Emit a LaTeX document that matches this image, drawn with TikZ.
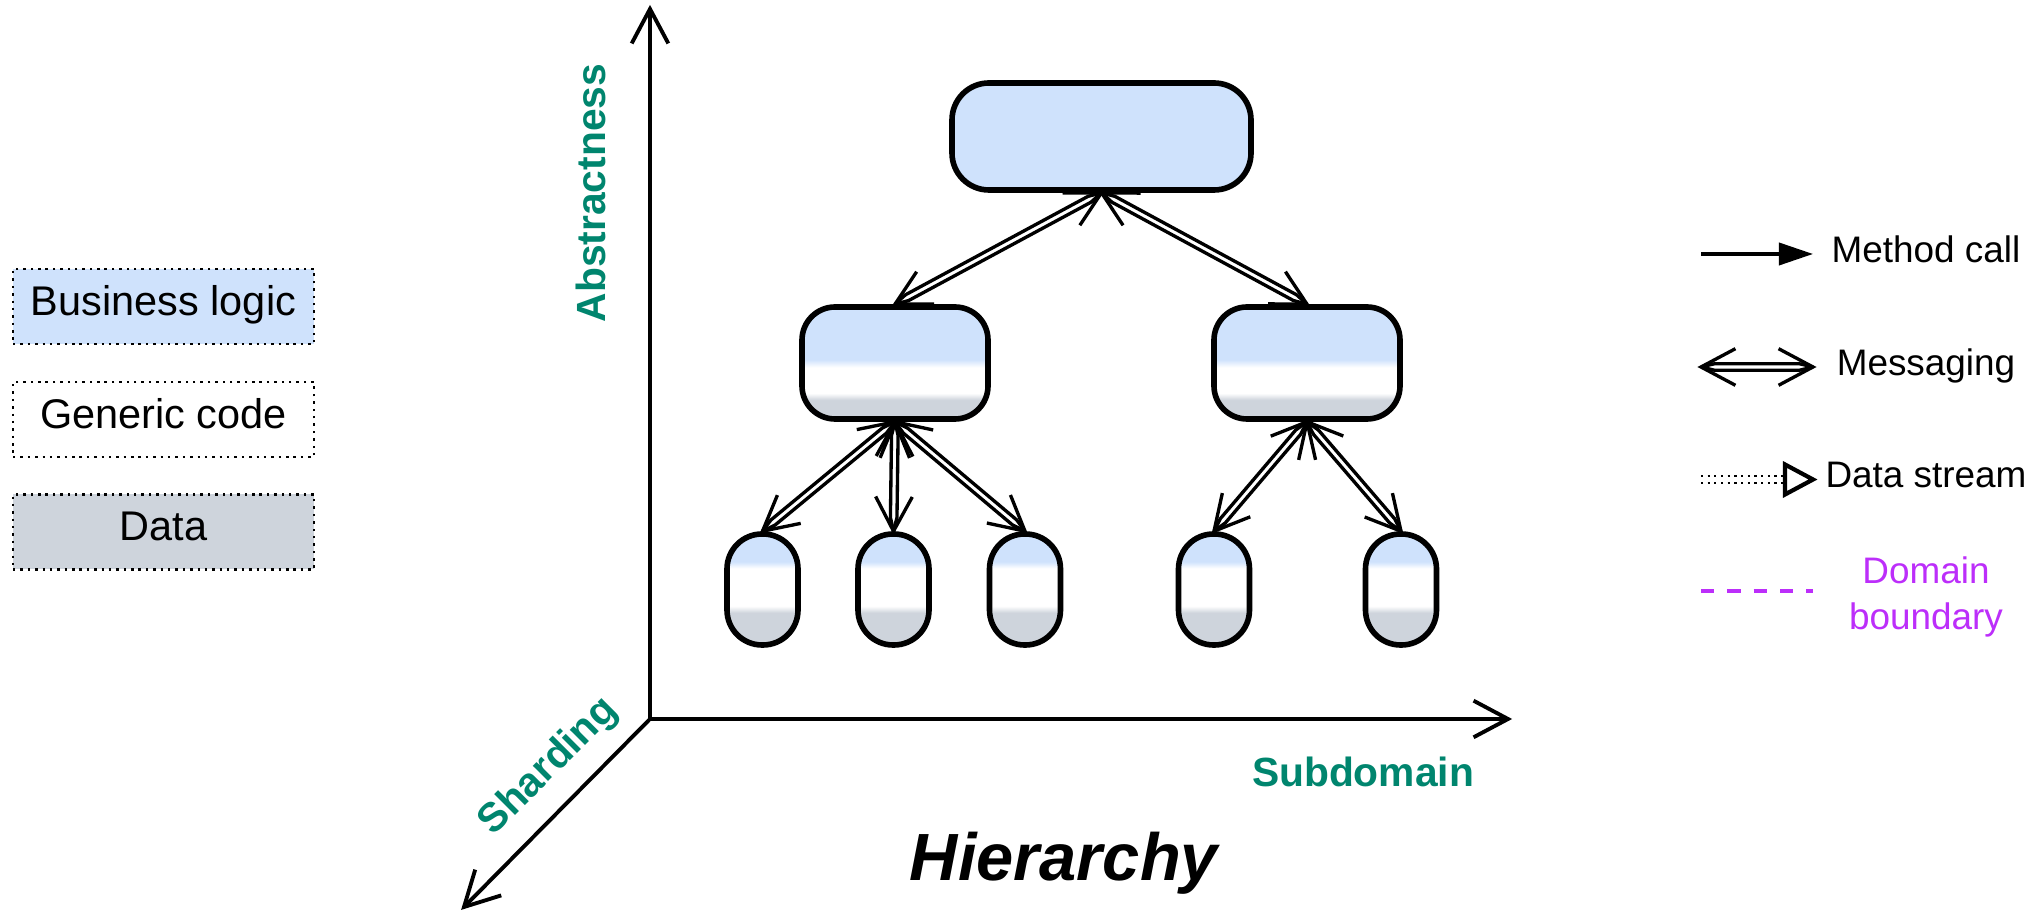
\documentclass[tikz,border=0pt]{standalone}
\usepackage{fontspec}
\setmainfont{Liberation Sans}
\usetikzlibrary{calc,arrows.meta}
\definecolor{blz}{HTML}{CFE2FC}
\definecolor{grz}{HTML}{CED4DC}
\definecolor{tealz}{HTML}{00856E}
\definecolor{purz}{RGB}{188,46,250}
\pgfdeclareverticalshading{midshade}{100bp}{color(0bp)=(grz); color(33.5bp)=(grz); color(36.5bp)=(white); color(48bp)=(white); color(51.5bp)=(blz); color(100bp)=(blz)}
\pgfdeclareverticalshading{smallshade}{100bp}{color(0bp)=(grz); color(39.5bp)=(grz); color(42.5bp)=(white); color(59.5bp)=(white); color(62.5bp)=(blz); color(100bp)=(blz)}
\newcommand\msgarrow[2]{%
  \draw[msgln, line join=round] (#1) -- ($(#1)!4pt!13.5:(#2)$) -- ($(#2)!4pt!-13.5:(#1)$) -- (#2);
  \draw[msgln, line join=round] (#1) -- ($(#1)!4pt!-13.5:(#2)$) -- ($(#2)!4pt!13.5:(#1)$) -- (#2);
  \draw[msgln] ($(#1)!11.1pt!28:(#2)$) -- (#1) -- ($(#1)!11.1pt!-28:(#2)$);
  \draw[msgln] ($(#2)!11.1pt!28:(#1)$) -- (#2) -- ($(#2)!11.1pt!-28:(#1)$);
}
\newcommand\axbarbs[2]{%
  \draw[axisln] ($(#1)!11.1pt!28:(#2)$) -- (#1) -- ($(#1)!11.1pt!-28:(#2)$);
}
\begin{document}
\begin{tikzpicture}[x=0.1mm, y=-0.1mm,
  bx/.style={draw, line width=1.6pt, inner sep=0pt},
  msgln/.style={line width=0.95pt, line join=miter},
  axisln/.style={line width=1.1pt, line join=miter},
  axlab/.style={text=tealz, font=\fontsize{11.6}{14}\selectfont\bfseries, inner sep=0pt},
  rleg/.style={font=\fontsize{10.5}{13.1}\selectfont, inner sep=0pt, anchor=base},
  lleg/.style={draw, dash pattern=on 0.7pt off 1.4pt, line width=0.72pt, minimum width=30.1mm, minimum height=7.5mm,
    inner sep=0pt, font=\fontsize{11.8}{14}\selectfont, text height=0.75em, text depth=0.25em}]
\useasboundingbox (0,0) rectangle (2038,924);

% left legend
\node[lleg, fill=blz] (lbl) at (163.5,306.5) {Business logic};
\node[lleg, fill=white] (lgc) at (163.5,419.5) {Generic code};
\node[lleg, fill=grz] (ldt) at (163.5,532) {Data};

% axes
\coordinate (O) at (650,719);
\coordinate (Ytip) at (650,9);
\coordinate (Xtip) at (1508,719);
\coordinate (Ztip) at (464,907);
\draw[axisln] (O) -- (Ytip);
\draw[axisln] (O) -- (Xtip);
\draw[axisln] (O) -- (Ztip);
\axbarbs{Ytip}{O}
\axbarbs{Xtip}{O}
\axbarbs{Ztip}{O}
\node[axlab, rotate=90] (labA) at (591,193) {Abstractness};
\node[axlab, anchor=base] (labS) at (1363,787) {Subdomain};
\node[axlab, rotate=45] (labH) at (549,767) {Sharding};
\node[font=\fontsize{19}{22}\selectfont\bfseries\itshape, anchor=base, inner sep=0pt] (hier) at (1064,881) {Hierarchy};

% boxes
\node[bx, fill=blz, rounded corners=10.5pt, minimum width=29.9mm, minimum height=10.7mm] (top) at (1101.5,136.5) {};
\node[bx, shading=midshade, rounded corners=9.4pt, minimum width=18.6mm, minimum height=11.2mm] (ml) at (895,363) {};
\node[bx, shading=midshade, rounded corners=9.4pt, minimum width=18.6mm, minimum height=11.2mm] (mr) at (1307,363) {};
\foreach \n/\x in {s1/762.5, s2/893.5, s3/1025, s4/1214, s5/1401}{
  \node[bx, shading=smallshade, rounded corners=3.5mm, minimum width=7.1mm, minimum height=11.1mm] (\n) at (\x,589.5) {};
}

% messaging connectors
\msgarrow{top.south}{ml.north}
\msgarrow{top.south}{mr.north}
\msgarrow{ml.south}{s1.north}
\msgarrow{ml.south}{s2.north}
\msgarrow{ml.south}{s3.north}
\msgarrow{mr.south}{s4.north}
\msgarrow{mr.south}{s5.north}

% right legend
\coordinate (mc1) at (1701,254);
\coordinate (mc2) at (1813,254);
\draw[line width=1.0pt, -{Triangle[length=9.7pt,width=6.3pt]}] (mc1) -- (mc2);
\node[rleg] (tmc) at (1926,263) {Method call};

\coordinate (me1) at (1701,367);
\coordinate (me2) at (1813,367);
\msgarrow{me1}{me2}
\node[rleg] (tme) at (1926,376) {Messaging};

\coordinate (ds1) at (1701,479.5);
\coordinate (ds2) at (1813,479.5);
\draw[line width=0.7pt, dash pattern=on 0.6pt off 1.3pt] ($(ds1)+(0,-3.5)$) -- ($(ds2)+(-28,-3.5)$);
\draw[line width=0.7pt, dash pattern=on 0.6pt off 1.3pt] ($(ds1)+(0,3.5)$) -- ($(ds2)+(-28,3.5)$);
\draw[line width=1.2pt, line join=miter] ($(ds2)+(-28,-15)$) -- (ds2) -- ($(ds2)+(-28,15)$) -- cycle;
\node[rleg] (tds) at (1926,488) {Data stream};

\coordinate (db1) at (1701,591);
\coordinate (db2) at (1813,591);
\draw[purz, line width=1.1pt, dash pattern=on 3.8pt off 3.7pt] (db1) -- (db2);
\node[rleg, text=purz, align=center, anchor=north] (tdb) at (1926,556) {Domain\\boundary};
\end{tikzpicture}
\end{document}
